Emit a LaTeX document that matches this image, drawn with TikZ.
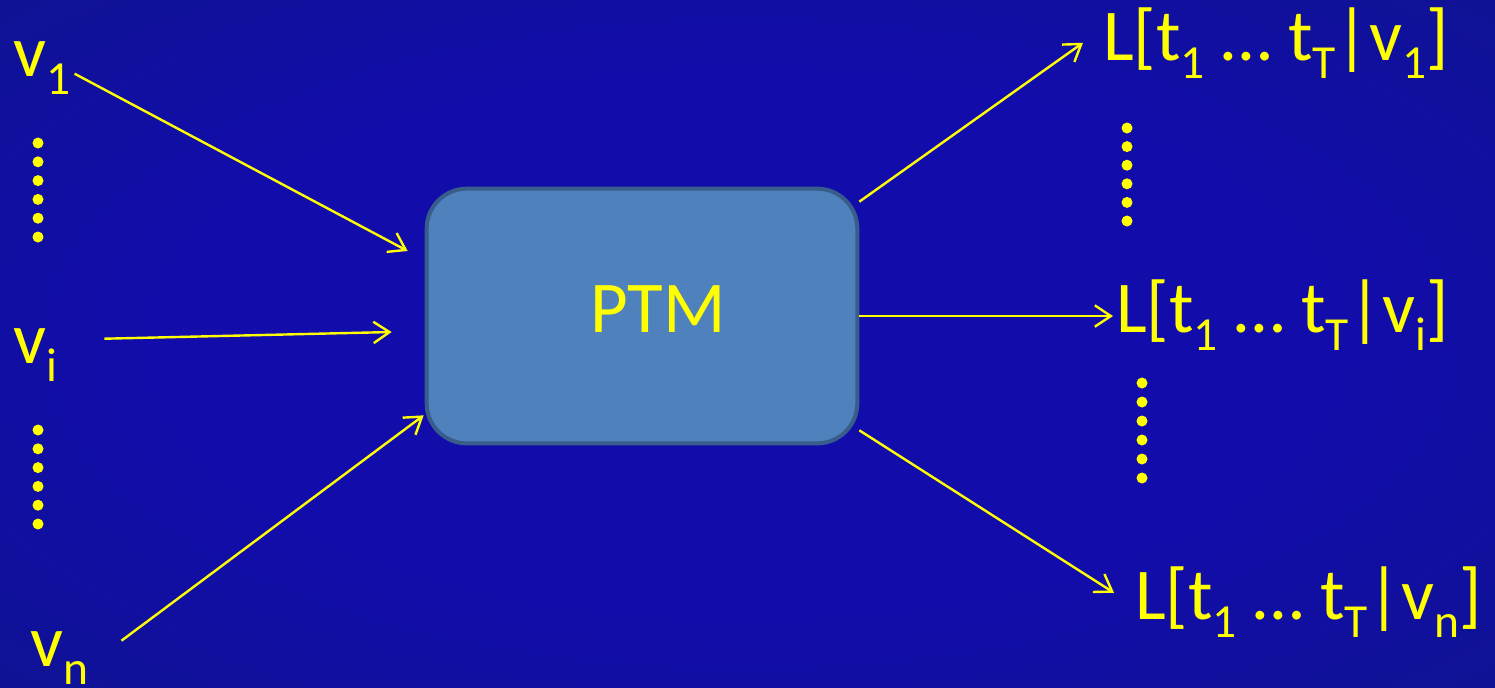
\documentclass[tikz,border=0pt]{standalone}
\usepackage{fontspec}
\setmainfont{Carlito}
\usetikzlibrary{arrows.meta,calc}

\definecolor{bgin}{RGB}{18,12,170}
\definecolor{bgout}{RGB}{12,30,112}
\definecolor{boxfill}{RGB}{79,129,189}
\definecolor{boxline}{RGB}{56,93,138}
\definecolor{ylw}{RGB}{255,255,0}
\pgfdeclareradialshading{bgglow}{\pgfpoint{0bp}{0bp}}{color(0bp)=(bgin); color(20bp)=(bgin); color(62bp)=(bgout)}

\newcommand{\sbs}[1]{\raisebox{-0.25em}{\fontsize{35.6pt}{40pt}\selectfont #1}}

\tikzset{
  lbl/.style={text=ylw, inner sep=0pt, font=\fontsize{54.75pt}{60pt}\selectfont},
  conn/.style={draw=ylw, line width=1.8pt, -{Straight Barb[length=12pt,width=16pt]}},
  ptmbox/.style={draw=boxline, fill=boxfill, line width=3pt, rounded corners=30pt,
    minimum width=323pt, minimum height=191pt, inner sep=0pt},
  vdot/.style={fill=ylw}
}

\begin{document}
\begin{tikzpicture}[x=0.75pt,y=0.75pt,yscale=-1,xscale=1]
%Shape: Background
\shade[shading=bgglow] (0,0) rectangle (1495,687);
\useasboundingbox (0,0) rectangle (1495,687);

%Shape: Rounded Rect [id:ptm]
\node[ptmbox] (ptm) at (642,316) {};
% Text Node
\node[lbl, anchor=base] (ptmtxt) at (658,332) {PTM};

% Text Node
\node[lbl, anchor=base west] (v1) at (13,76) {v\sbs{1}};
% Text Node
\node[lbl, anchor=base west] (vi) at (13,363) {v\sbs{i}};
% Text Node
\node[lbl, anchor=base west] (vn) at (30,666) {v\sbs{n}};

% Text Node
\node[lbl, anchor=base west] (l1) at (1103,60) {L[t\sbs{1} … t\sbs{T}|v\sbs{1}]};
% Text Node
\node[lbl, anchor=base west] (li) at (1116,332) {L[t\sbs{1} … t\sbs{T}|v\sbs{i}]};
% Text Node
\node[lbl, anchor=base west] (ln) at (1135,619) {L[t\sbs{1} … t\sbs{T}|v\sbs{n}]};

%Shape: Dots
\foreach \k in {0,...,5}{
  \fill[vdot] (38,{143+18.8*\k}) circle (5.5);
  \fill[vdot] (38,{430+18.8*\k}) circle (5.5);
  \fill[vdot] (1127,{128+18.6*\k}) circle (5.5);
  \fill[vdot] (1142,{383+19*\k}) circle (5.5);
}

%Straight Lines [id:in]
\draw[conn] ([shift={(4,6)}]v1.east) -- ($(ptm.west)+(-17,-65)$);
\draw[conn] ([shift={(47,-16)}]vi.east) -- ($(ptm.west)+(-33,16)$);
\draw[conn] ([shift={(33,-17)}]vn.east) -- ($(ptm.south west)+(-1,-30)$);

%Straight Lines [id:out]
\draw[conn] ($(ptm.north east)+(0,15)$) -- ($(l1.west)+(-20,0)$);
\draw[conn] (ptm.east) -- ($(ptm.east -| li.west)+(-3,0)$);
\draw[conn] ($(ptm.south east)+(0,-15)$) -- ($(ln.west)+(-21,-9)$);

\end{tikzpicture}
\end{document}
